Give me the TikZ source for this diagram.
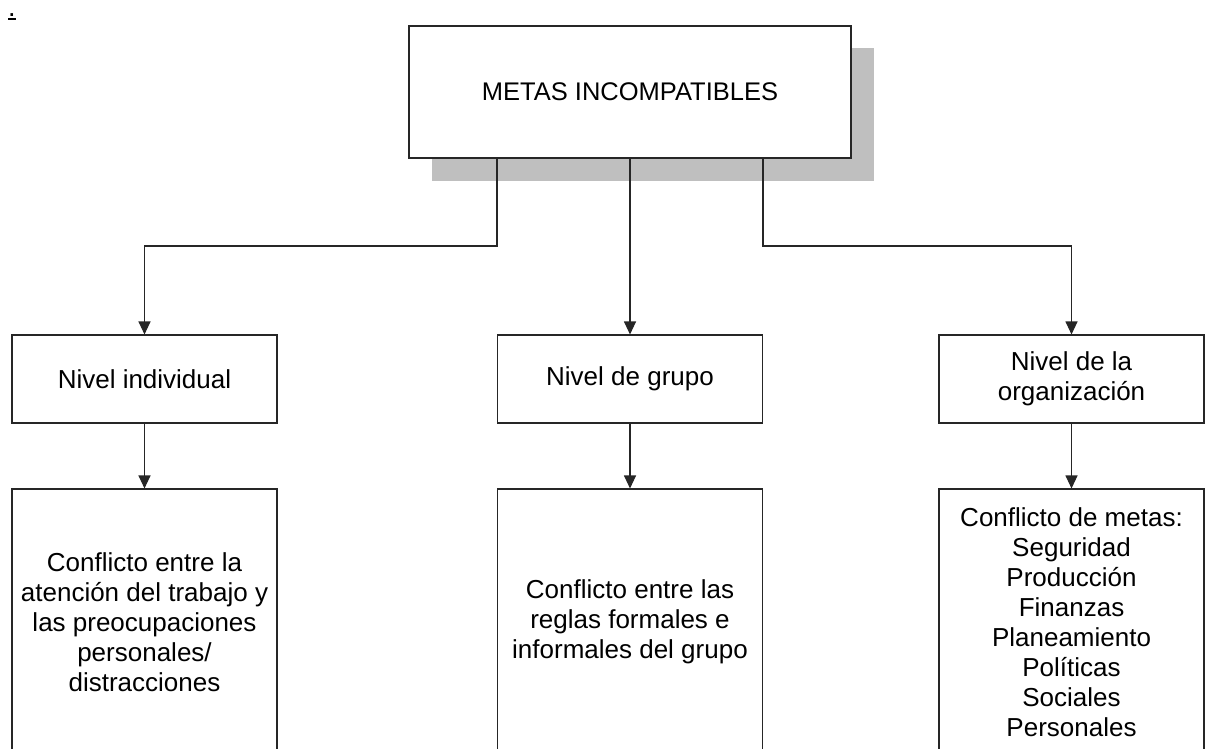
\documentclass[tikz,border=0pt]{standalone}
\usepackage{fontspec}
\setmainfont{Liberation Sans}
\usetikzlibrary{arrows.meta}

\begin{document}
\begin{tikzpicture}[x=1pt,y=-1pt,
  box/.style={draw=black!85, line width=1.1pt, fill=white, inner sep=0pt,
    align=center, font=\fontsize{26}{30}\selectfont},
  link/.style={draw=black!85, line width=1.1pt},
  arr/.style={link, -{Triangle[length=13pt,width=12pt]}},
]
% page area
\fill[white] (0,0) rectangle (1206,748);
\clip (0,0) rectangle (1206,748);

% small underlined mark in the corner
\node[font=\fontsize{27}{30}\selectfont, inner sep=0pt, anchor=base west] (mark) at (8,16) {.};
\draw[black, line width=1.5pt] (mark.base west) ++(0,3) -- ++(8,0);

% title box with its drop shadow
\fill[black!25] (432,48) rectangle (874,181);
\node[box, minimum width=442pt, minimum height=132pt,
  font=\fontsize{25.5}{30}\selectfont] (top) at (630,92) {METAS INCOMPATIBLES};

% levels
\node[box, minimum width=265pt, minimum height=88pt] (ind) at (144.5,379) {Nivel individual};
\node[box, minimum width=265pt, minimum height=88pt] (grp) at (630,379) {Nivel de grupo};
\node[box, minimum width=265pt, minimum height=88pt] (org) at (1071.5,379) {Nivel de la\\organización};

% conflicts at each level
\node[box, minimum width=265pt, minimum height=266pt] (cind) at (144.5,622)
  {Conflicto entre la\\atención del trabajo y\\las preocupaciones\\personales/\\distracciones};
\node[box, minimum width=265pt, minimum height=266pt] (cgrp) at (630,622)
  {Conflicto entre las\\reglas formales e\\informales del grupo};
\node[box, minimum width=265pt, minimum height=266pt] (corg) at (1071.5,622)
  {Conflicto de metas:\\Seguridad\\Producción\\Finanzas\\Planeamiento\\Políticas\\Sociales\\Personales};

% connectors
\coordinate (jl) at (497,246);
\coordinate (jr) at (763,246);
\draw[arr] (top.south -| jl) -- (jl) -| (ind.north);
\draw[arr] (top) -- (grp);
\draw[arr] (top.south -| jr) -- (jr) -| (org.north);
\draw[arr] (ind) -- (cind);
\draw[arr] (grp) -- (cgrp);
\draw[arr] (org) -- (corg);
\end{tikzpicture}
\end{document}
